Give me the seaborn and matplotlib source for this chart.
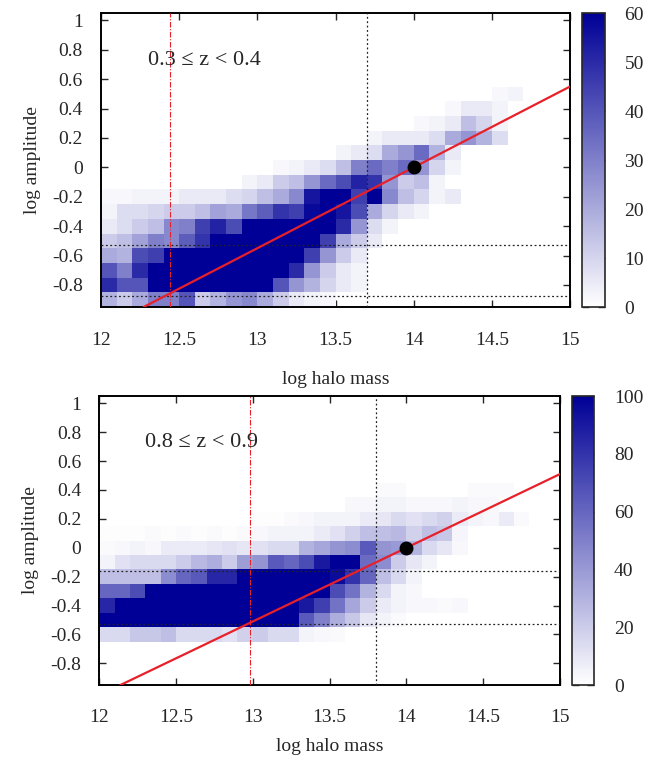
import numpy as np
import pandas as pd
import matplotlib
matplotlib.use("Agg")
import matplotlib.pyplot as plt
from matplotlib.colors import LinearSegmentedColormap
import seaborn as sns

# grid of the 2d histogram, 0.1 wide bins
mass_edges = np.linspace(12, 15, 31)
amp_edges = np.linspace(-0.95, 1.05, 21)
mass_centres = np.round(mass_edges[:-1] + 0.05, 2)

x_ticks = [12, 12.5, 13, 13.5, 14, 14.5, 15]
x_labels = ["12", "12.5", "13", "13.5", "14", "14.5", "15"]
y_ticks = [-0.8, -0.6, -0.4, -0.2, 0, 0.2, 0.4, 0.6, 0.8, 1]
y_labels = ["-0.8", "-0.6", "-0.4", "-0.2", "0", "0.2", "0.4", "0.6", "0.8", "1"]

# ---- panel 1: 0.3 <= z < 0.4 (rows from log amplitude -0.9 upwards)
amp_rows_1 = [-0.9, -0.8, -0.7, -0.6, -0.5, -0.4, -0.3, -0.2, -0.1, 0.0, 0.1, 0.2, 0.3, 0.4, 0.5]
counts_1 = [
    [18, 12, 20, 30, 30, 40, 12, 18, 25, 28, 20, 12, 5, 3, 2] + [0] * 15,
    [50, 40, 40, 60, 60, 60, 60, 60, 60, 60, 60, 40, 25, 18, 10, 5, 3] + [0] * 13,
    [40, 30, 50, 60, 60, 60, 60, 60, 60, 60, 60, 60, 50, 25, 12, 5, 3] + [0] * 13,
    [20, 18, 42, 45, 60, 60, 60, 60, 60, 60, 60, 60, 60, 45, 25, 12, 5] + [0] * 13,
    [12, 15, 22, 30, 28, 38, 48, 60, 60, 60, 60, 60, 60, 60, 45, 20, 12, 5] + [0] * 12,
    [5, 8, 12, 15, 28, 30, 45, 52, 42, 60, 60, 60, 60, 60, 60, 50, 25, 8, 3] + [0] * 11,
    [3, 8, 8, 10, 12, 12, 15, 22, 20, 32, 38, 48, 45, 58, 60, 55, 42, 20, 10, 5, 3] + [0] * 9,
    [2, 2, 3, 3, 3, 5, 5, 5, 8, 10, 15, 20, 28, 55, 60, 60, 45, 60, 28, 15, 10, 3, 5] + [0] * 7,
    [0] * 9 + [3, 5, 12, 15, 25, 35, 42, 52, 48, 25, 12, 15, 3] + [0] * 8,
    [0] * 11 + [2, 3, 5, 8, 15, 30, 35, 30, 35, 25, 10, 3] + [0] * 7,
    [0] * 15 + [3, 5, 8, 20, 25, 35, 18, 5] + [0] * 7,
    [0] * 17 + [3, 5, 5, 5, 8, 20, 25, 18, 8] + [0] * 4,
    [0] * 20 + [2, 3, 5, 15, 10, 3] + [0] * 4,
    [0] * 22 + [2, 5, 5, 3] + [0] * 4,
    [0] * 25 + [2, 3] + [0] * 3,
]
vmax_1 = 60
cbar_ticks_1 = [0, 10, 20, 30, 40, 50, 60]
label_1 = "0.3 \u2264 z < 0.4"
slope_1 = 0.55
mass_min_1 = 12.44
mass_cut_1 = 13.70
amp_cuts_1 = [-0.873, -0.53]

# ---- panel 2: 0.8 <= z < 0.9 (rows from log amplitude -0.6 upwards)
amp_rows_2 = [-0.6, -0.5, -0.4, -0.3, -0.2, -0.1, 0.0, 0.1, 0.2, 0.3, 0.4]
counts_2 = [
    [15, 15, 22, 22, 25, 15, 15, 15, 12, 18, 20, 15, 15, 5, 3, 2] + [0] * 14,
    [100] * 13 + [65, 50, 32, 22, 10, 5, 2] + [0] * 10,
    [85] + [100] * 12 + [90, 75, 55, 35, 20, 8, 5, 3, 3, 2, 3] + [0] * 6,
    [60, 60, 70] + [100] * 12 + [70, 55, 30, 15, 5, 3] + [0] * 9,
    [25, 25, 25, 25, 45, 60, 65, 85, 85] + [100] * 6 + [95, 80, 60, 25, 15, 5] + [0] * 9,
    [5, 12, 15, 15, 15, 20, 28, 32, 20, 38, 42, 65, 60, 70, 90, 100, 100, 58, 45, 20, 10, 5] + [0] * 8,
    [2, 3, 5, 3, 8, 8, 8, 10, 12, 10, 12, 15, 15, 30, 35, 42, 45, 65, 42, 40, 30, 15, 10, 3] + [0] * 6,
    [1, 1, 1, 2, 1, 2, 1, 2, 1, 2, 3, 5, 5, 5, 8, 12, 18, 25, 25, 28, 18, 25, 22, 4] + [0] * 6,
    [0] * 10 + [1, 1, 2, 3, 5, 5, 5, 8, 10, 15, 12, 15, 18, 8, 5, 3, 8, 2] + [0] * 2,
    [0] * 16 + [3, 3, 5, 5, 3, 3, 3, 5, 3, 3] + [0] * 4,
    [0] * 18 + [2, 2, 0, 0, 0, 0, 2, 2, 2] + [0] * 3,
]
vmax_2 = 100
cbar_ticks_2 = [0, 20, 40, 60, 80, 100]
label_2 = "0.8 \u2264 z < 0.9"
slope_2 = 0.51
mass_min_2 = 12.98
mass_cut_2 = 13.80
amp_cuts_2 = [-0.53, -0.16]

pivot = (14.0, 0.0)


def to_long(rows, counts):
    recs = []
    for amp, row in zip(rows, counts):
        for m, c in zip(mass_centres, row):
            if c > 0:
                recs.append((m, amp, c))
    return pd.DataFrame(recs, columns=["mass", "amp", "count"])


sns.set_style("ticks")
plt.rcParams["font.family"] = ["Liberation Serif", "DejaVu Serif"]
plt.rcParams["axes.unicode_minus"] = False

cmap = LinearSegmentedColormap.from_list("wb", ["#ffffff", "#000096"])

fig = plt.figure(figsize=(6.65, 7.62), dpi=100)

panels = [
    ([0.1519, 0.5971, 0.7053, 0.3858], [0.8747, 0.5971, 0.0350, 0.3858], 16, 18,
     amp_rows_1, counts_1, vmax_1, cbar_ticks_1, label_1, slope_1, mass_min_1, mass_cut_1, amp_cuts_1),
    ([0.1493, 0.1010, 0.6928, 0.3793], [0.8597, 0.1010, 0.0340, 0.3793], 9, 17,
     amp_rows_2, counts_2, vmax_2, cbar_ticks_2, label_2, slope_2, mass_min_2, mass_cut_2, amp_cuts_2),
]

for pos, cpos, xlpad, xtpad, rows, counts, vmax, cticks, label, slope, mmin, mcut, acuts in panels:
    ax = fig.add_axes(pos)
    cax = fig.add_axes(cpos)
    df = to_long(rows, counts)
    sns.histplot(data=df, x="mass", y="amp", weights="count",
                 bins=(mass_edges, amp_edges), cmap=cmap, vmin=0, vmax=vmax,
                 cbar=True, cbar_ax=cax, ax=ax)

    # reference lines
    for a in acuts:
        ax.axhline(a, color="#222222", ls=(0, (1.5, 2)), lw=0.9, zorder=3)
    ax.axvline(mcut, color="#222222", ls=(0, (1.5, 2)), lw=0.9, zorder=3)
    ax.axvline(mmin, color="#e8202a", ls=(0, (5, 1.5, 1, 1.5)), lw=0.8, zorder=3)
    ax.axline(pivot, slope=slope, color="#e8202a", lw=1.6, zorder=4)
    ax.plot(pivot[0], pivot[1], "o", color="black", ms=9, zorder=5)

    ax.text(12.3, 0.73, label, fontsize=16, va="center", ha="left")

    ax.set_xlim(12, 15)
    ax.set_ylim(-0.95, 1.05)
    ax.set_xticks(x_ticks)
    ax.set_xticklabels(x_labels)
    ax.set_yticks(y_ticks)
    ax.set_yticklabels(y_labels)
    ax.tick_params(direction="in", length=5, width=1, labelsize=14,
                   top=True, right=True)
    ax.tick_params(axis="x", pad=xtpad)
    ax.tick_params(axis="y", pad=13)
    ax.set_xlabel("log halo mass", fontsize=14, labelpad=xlpad)
    ax.set_ylabel("log amplitude", fontsize=14, labelpad=8)
    for s in ax.spines.values():
        s.set_visible(True)
        s.set_linewidth(1.4)
        s.set_color("black")

    cax.set_yticks(cticks)
    cax.tick_params(direction="in", length=5, width=1, labelsize=14,
                    left=True, right=True, pad=14)
    cax.yaxis.set_ticklabels([str(t) for t in cticks])
    for s in cax.spines.values():
        s.set_linewidth(1.2)

fig.savefig("out.png", dpi=100)
